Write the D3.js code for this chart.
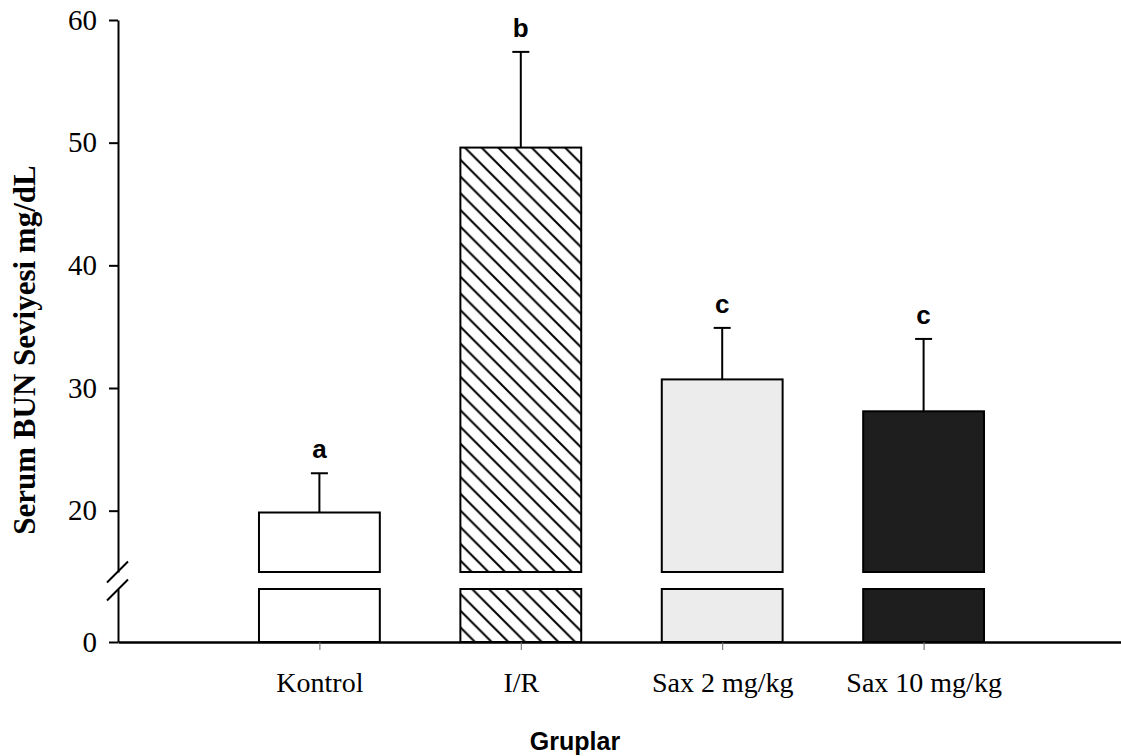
<!DOCTYPE html>
<html>
<head>
<meta charset="utf-8">
<script src="https://cdn.jsdelivr.net/npm/d3@7"></script>
<style>
  body { margin: 0; background: #fff; }
  svg { display: block; }
  .tick text { font-family: "Liberation Serif", "Times New Roman", serif; }
</style>
</head>
<body>
<svg id="chart" width="1121" height="756"></svg>
<script>
const categories = ["Kontrol", "I/R", "Sax 2 mg/kg", "Sax 10 mg/kg"];
const means = [19.85, 49.6, 30.7, 28.1];
const errors = [3.2, 7.8, 4.2, 5.9];
const letters = ["a", "b", "c", "c"];
const fills = ["#ffffff", "url(#hatch)", "#ececec", "#1e1e1e"];
const upperTicks = [20, 30, 40, 50, 60];
const lowerTicks = [0];

const svg = d3.select("#chart");
const axisX = 118;

// hatch pattern for the I/R bar
const pat = svg.append("defs").append("pattern")
  .attr("id", "hatch").attr("patternUnits", "userSpaceOnUse")
  .attr("width", 16.7).attr("height", 16.7);
pat.append("rect").attr("width", 16.7).attr("height", 16.7).attr("fill", "#fff");
pat.append("path").attr("d", "M-4,-4L20.7,20.7M-4,12.7L4,20.7M12.7,-4L20.7,4")
  .attr("stroke", "#000").attr("stroke-width", 2);

const x = d3.scaleLinear().domain([0, categories.length + 1]).range([axisX, 1125]);
const yUp = d3.scaleLinear().domain([15, 60]).range([572, 20]);
const yLow = d3.scaleLinear().domain([0, 5]).range([642, 589]);
const barW = (x(1) - x(0)) * 0.6;

// bars, split across the axis break
const g = svg.append("g");
categories.forEach((c, i) => {
  const cx = x(i + 1);
  g.append("rect").attr("x", cx - barW / 2).attr("width", barW)
    .attr("y", yLow(5)).attr("height", yLow(0) - yLow(5))
    .attr("fill", fills[i]).attr("stroke", "#000").attr("stroke-width", 2);
  g.append("rect").attr("x", cx - barW / 2).attr("width", barW)
    .attr("y", yUp(means[i])).attr("height", yUp(15) - yUp(means[i]))
    .attr("fill", fills[i]).attr("stroke", "#000").attr("stroke-width", 2);
  const top = yUp(means[i] + errors[i]);
  g.append("line").attr("x1", cx).attr("x2", cx).attr("y1", yUp(means[i])).attr("y2", top)
    .attr("stroke", "#000").attr("stroke-width", 2);
  g.append("line").attr("x1", cx - 8.5).attr("x2", cx + 8.5).attr("y1", top).attr("y2", top)
    .attr("stroke", "#000").attr("stroke-width", 2);
  g.append("text").attr("x", cx).attr("y", top - 15).attr("text-anchor", "middle")
    .attr("font-family", "Liberation Sans, Arial, sans-serif").attr("font-weight", "bold")
    .attr("font-size", 26).text(letters[i]);
});

// y axes (upper and lower segments)
const styleAxis = (sel) => {
  sel.selectAll("path, line").attr("stroke", "#000").attr("stroke-width", 2);
  sel.selectAll("text").attr("font-size", 29).attr("fill", "#000");
};
svg.append("g").attr("transform", `translate(${axisX},0)`)
  .call(d3.axisLeft(yUp).tickValues(upperTicks).tickFormat(d3.format("d"))
    .tickSize(9).tickSizeOuter(0).tickPadding(12))
  .call(styleAxis);
svg.append("g").attr("transform", `translate(${axisX},0)`)
  .call(d3.axisLeft(yLow).tickValues(lowerTicks).tickFormat(d3.format("d"))
    .tickSize(9).tickSizeOuter(0).tickPadding(12))
  .call(styleAxis);

// break marks
[572, 590].forEach((yy) => {
  svg.append("line").attr("x1", axisX - 11).attr("x2", axisX + 10)
    .attr("y1", yy + 10.5).attr("y2", yy - 10.5)
    .attr("stroke", "#000").attr("stroke-width", 2);
});

// x axis
const xa = svg.append("g").attr("transform", `translate(0,${yLow(0)})`)
  .call(d3.axisBottom(x).tickValues(categories.map((c, i) => i + 1))
    .tickFormat((d) => categories[d - 1]).tickSize(8).tickSizeOuter(0).tickPadding(22));
xa.select(".domain").attr("stroke", "#000").attr("stroke-width", 2.5);
xa.selectAll(".tick line").attr("stroke", "#666").attr("stroke-width", 1);
xa.selectAll("text").attr("font-size", 28).attr("fill", "#000");

// titles
svg.append("text").attr("x", 575).attr("y", 750).attr("text-anchor", "middle")
  .attr("font-family", "Liberation Sans, Arial, sans-serif").attr("font-weight", "bold")
  .attr("font-size", 25).text("Gruplar");
svg.append("text").attr("transform", "translate(35,350) rotate(-90)").attr("text-anchor", "middle")
  .attr("font-family", "Liberation Serif, Times New Roman, serif").attr("font-weight", "bold")
  .attr("font-size", 31).text("Serum BUN Seviyesi mg/dL");
</script>
</body>
</html>
